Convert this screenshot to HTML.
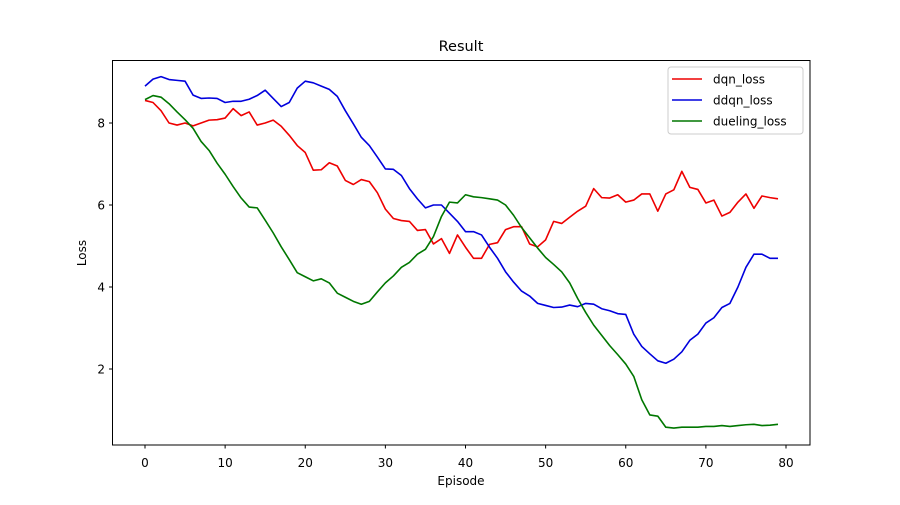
<!DOCTYPE html>
<html><head><meta charset="utf-8"><style>
body{margin:0;background:#fff}
svg{font-family:"DejaVu Sans","Liberation Sans",sans-serif}
</style></head><body>
<svg id="chart" width="900" height="500" viewBox="0 0 900 500" xmlns="http://www.w3.org/2000/svg">
<rect width="900" height="500" fill="#fff"/>
<text x="461" y="51" font-size="14.5" text-anchor="middle">Result</text>
<g id="plot"></g>
<rect x="112.5" y="60.5" width="697.5" height="384.5" fill="none" stroke="#000" stroke-width="1"/>
<text x="461" y="485" font-size="12" text-anchor="middle">Episode</text>
<text x="86" y="253" font-size="12" text-anchor="middle" transform="rotate(-90 86 253)">Loss</text>
<g>
<rect x="668" y="67" width="135" height="67" rx="3" fill="#fff" fill-opacity="0.8" stroke="#ccc"/>
<line x1="672" y1="79" x2="702" y2="79" stroke="#e00" stroke-width="1.5"/>
<text x="713" y="83.5" font-size="12">dqn_loss</text>
<line x1="672" y1="100" x2="702" y2="100" stroke="#00d" stroke-width="1.5"/>
<text x="713" y="104.5" font-size="12">ddqn_loss</text>
<line x1="672" y1="121" x2="702" y2="121" stroke="#070" stroke-width="1.5"/>
<text x="713" y="125.5" font-size="12">dueling_loss</text>
</g>
</svg>
<script>
const xTicks=[0,10,20,30,40,50,60,70,80];
const yTicks=[2,4,6,8];
const dqn=[8.55,8.5,8.3,8.0,7.95,8.0,7.93,8.0,8.07,8.08,8.12,8.35,8.18,8.27,7.95,8.0,8.07,7.92,7.7,7.45,7.28,6.85,6.86,7.03,6.95,6.6,6.5,6.62,6.57,6.3,5.9,5.67,5.62,5.6,5.38,5.4,5.05,5.18,4.82,5.27,4.97,4.7,4.7,5.04,5.08,5.4,5.47,5.47,5.05,4.98,5.15,5.6,5.55,5.7,5.85,5.97,6.4,6.18,6.17,6.25,6.07,6.12,6.27,6.27,5.85,6.27,6.37,6.82,6.43,6.38,6.05,6.12,5.73,5.82,6.07,6.27,5.92,6.22,6.18,6.15];
const ddqn=[8.9,9.07,9.13,9.06,9.04,9.02,8.68,8.6,8.61,8.6,8.5,8.53,8.53,8.58,8.67,8.8,8.6,8.4,8.5,8.85,9.02,8.98,8.9,8.82,8.65,8.3,7.98,7.65,7.45,7.17,6.88,6.87,6.72,6.4,6.15,5.93,6.0,6.0,5.8,5.6,5.35,5.35,5.27,4.97,4.7,4.37,4.12,3.9,3.78,3.6,3.55,3.5,3.51,3.56,3.52,3.6,3.58,3.47,3.42,3.35,3.33,2.85,2.55,2.37,2.2,2.14,2.24,2.42,2.7,2.85,3.12,3.25,3.5,3.6,4.0,4.48,4.8,4.8,4.7,4.7];
const dueling=[8.57,8.67,8.63,8.47,8.27,8.08,7.87,7.55,7.33,7.02,6.75,6.45,6.17,5.95,5.93,5.63,5.32,4.98,4.67,4.35,4.25,4.15,4.2,4.1,3.85,3.75,3.65,3.58,3.65,3.88,4.1,4.27,4.48,4.6,4.8,4.92,5.23,5.72,6.07,6.05,6.25,6.2,6.18,6.15,6.12,6.0,5.75,5.45,5.2,4.95,4.72,4.55,4.37,4.1,3.72,3.38,3.07,2.82,2.57,2.35,2.12,1.82,1.25,0.88,0.85,0.58,0.56,0.58,0.58,0.58,0.6,0.6,0.62,0.6,0.62,0.64,0.65,0.62,0.63,0.65];
const NS='http://www.w3.org/2000/svg';
const X=v=>145+v*8.0125;
const Y=v=>451-v*41;
const g=document.getElementById('plot');
function mk(t,a){const e=document.createElementNS(NS,t);for(const k in a)e.setAttribute(k,a[k]);g.appendChild(e);return e;}
xTicks.forEach(t=>{
  const l=mk('line',{x1:X(t),x2:X(t),y1:445,y2:448.5,stroke:'#000'});
  
  
  const tx=mk('text',{x:X(t),y:467,'font-size':12,'text-anchor':'middle'});
  
  
  tx.textContent=t;
});
yTicks.forEach(t=>{
  const l=mk('line',{x1:109,x2:112.5,y1:Y(t),y2:Y(t),stroke:'#000'});
  
  
  const tx=mk('text',{x:105,y:Y(t)+4.5,'font-size':12,'text-anchor':'end'});
  
  
  tx.textContent=t;
});
function line(arr,color,name){
  const p=mk('polyline',{points:arr.map((v,i)=>X(i)+','+Y(v)).join(' '),fill:'none',stroke:color,'stroke-width':1.6,'stroke-linejoin':'round'});
  
  
}
line(dqn,'#e00','dqn-loss-line');
line(ddqn,'#00d','ddqn-loss-line');
line(dueling,'#070','dueling-loss-line');
</script>
</body></html>
